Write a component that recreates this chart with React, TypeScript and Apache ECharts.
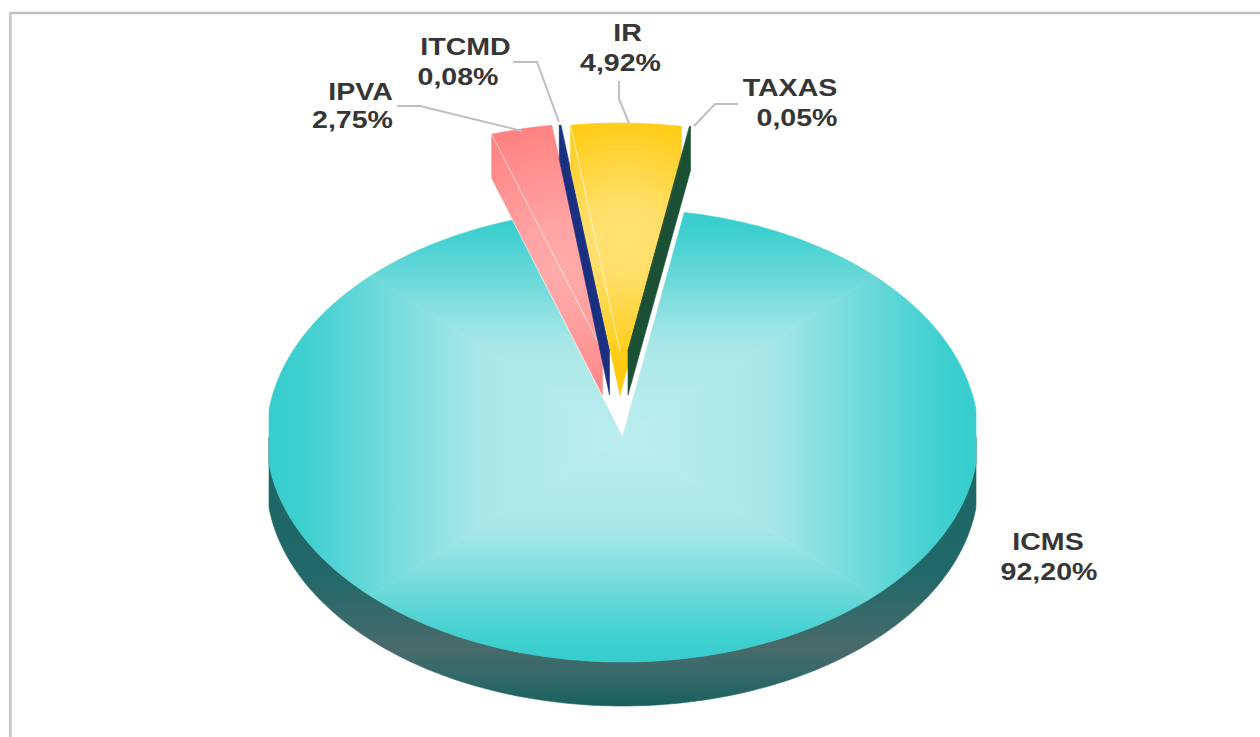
import React, { useEffect, useRef } from "react";
import * as echarts from "echarts";

const categories = ["ICMS", "IPVA", "ITCMD", "IR", "TAXAS"];
const shares = [92.2, 2.75, 0.08, 4.92, 0.05];
const shareLabels = ["92,20%", "2,75%", "0,08%", "4,92%", "0,05%"];
const FIRST_ANGLE = 10;

const FONT = 'bold 24px "Liberation Sans", Arial, sans-serif';
const TEXT_STRETCH = 1.19;
const TEXT_COLOR = "#363636";
const LEADER = "#bfbfbf";
const DEPTH = 44;
const LEFT_LIMIT = 269;
const RIGHT_LIMIT = 976;

const slicePlace = [
  { cx: 622.5, cy: 437, rx: 356, ry: 225, ryBack: 228, rimDepth: DEPTH },
  { cx: 602.5, cy: 351, rx: 357, ry: 228, ryBack: 228, rimDepth: DEPTH },
  { cx: 609.5, cy: 351, rx: 353, ry: 228, ryBack: 228, rimDepth: 34 },
  { cx: 620, cy: 351, rx: 360, ry: 228, ryBack: 228, rimDepth: DEPTH },
  { cx: 628, cy: 351, rx: 360, ry: 228, ryBack: 228, rimDepth: DEPTH },
];

const radial = (x: number, y: number, r: number, stops: [number, string][]) => ({
  type: "radial", x, y, r, global: true,
  colorStops: stops.map(([offset, color]) => ({ offset, color })),
});
const sliceFill = [
  null,
  radial(562, 268, 150, [[0, "#ffabab"], [0.3, "#ffa3a3"], [1, "#ff8080"]]),
  "#1a3080",
  radial(625, 238, 125, [[0, "#ffe274"], [0.3, "#ffdf69"], [1, "#ffcb10"]]),
  "#1b5035",
];

const labelPlace = [
  { lines: [{ x: 1048, y: 542 }, { x: 1049, y: 572 }], leader: null },
  { lines: [{ x: 360.5, y: 92 }, { x: 352.5, y: 120 }], leader: [[397, 106], [420, 106], [522, 131]] },
  { lines: [{ x: 465.5, y: 47 }, { x: 458, y: 77 }], leader: [[513, 62], [537, 62], [559, 122]] },
  { lines: [{ x: 627.5, y: 33 }, { x: 620.5, y: 63 }], leader: [[619, 81], [619, 99], [629, 123]] },
  { lines: [{ x: 790, y: 88 }, { x: 797, y: 118 }], leader: [[738, 104], [715, 104], [694, 126]] },
];

type Place = { cx: number; cy: number; rx: number; ry: number; ryBack: number; rimDepth: number };
const rad = (d: number) => (d * Math.PI) / 180;
const rim = (p: Place, deg: number, drop = 0): number[] => {
  const c = Math.cos(rad(deg));
  const x = p.cx + p.rx * Math.sin(rad(deg));
  return [
    Math.min(RIGHT_LIMIT, Math.max(LEFT_LIMIT, x)),
    p.cy - (c > 0 ? p.ryBack : p.ry) * c + drop,
  ];
};
const arc = (p: Place, a: number, b: number, drop = 0) => {
  const out: number[][] = [];
  const n = Math.max(2, Math.ceil(Math.abs(b - a)));
  for (let i = 0; i <= n; i++) out.push(rim(p, a + ((b - a) * i) / n, drop));
  return out;
};

const tealStops = [
  { offset: 0, color: "#36cdcd" },
  { offset: 0.1, color: "#3fcfcf" },
  { offset: 0.6, color: "#abe7e7" },
  { offset: 1, color: "#bbeded" },
];
const wedgeGradient = (p: Place, side: number) => {
  const g: any = { type: "linear", global: true, colorStops: tealStops };
  if (side === 0) Object.assign(g, { x: 0, y: p.cy - p.ryBack, x2: 0, y2: p.cy });
  if (side === 1) Object.assign(g, { x: RIGHT_LIMIT, y: 0, x2: p.cx, y2: 0 });
  if (side === 2) Object.assign(g, { x: 0, y: p.cy + p.ry, x2: 0, y2: p.cy });
  if (side === 3) Object.assign(g, { x: LEFT_LIMIT, y: 0, x2: p.cx, y2: 0 });
  return g;
};
const polygon = (points: number[][], fill: any, stroke?: any, lineWidth = 0.6) => ({
  type: "polygon",
  shape: { points },
  style: { fill, stroke: stroke || fill, lineWidth },
  silent: true,
});

function App() {
  const ref = useRef<HTMLDivElement>(null);
  useEffect(() => {
    const chart = echarts.init(ref.current!, null, { renderer: "svg" });
    const total = shares.reduce((s, v) => s + v, 0);

    const renderItem = (params: any, api: any) => {
      const i = params.dataIndex;
      const value = api.value(0);
      const before = shares.slice(0, i).reduce((s, v) => s + v, 0);
      const a = FIRST_ANGLE + (before / total) * 360;
      const b = a + (value / total) * 360;
      const p = slicePlace[i];
      const children: any[] = [];
      const centre = [p.cx, p.cy];
      const centreLow = [p.cx, p.cy + DEPTH];

      if (i === 0) {
        // outer wall of the big slice (front half only)
        const top = arc(p, 90, 270);
        const low = arc(p, 270, 90, DEPTH);
        children.push(
          polygon([...top, ...low], {
            type: "linear", global: true,
            x: 0, y: 440, x2: 0, y2: 706,
            colorStops: [
              { offset: 0, color: "#1b6666" },
              { offset: 0.5, color: "#226868" },
              { offset: 0.7, color: "#3c6a6a" },
              { offset: 0.77, color: "#4a6a6a" },
              { offset: 0.85, color: "#3d6a6a" },
              { offset: 1, color: "#1a6060" },
            ],
          })
        );
        // face, in four quarters so that the shading follows a rectangle
        for (let side = 0; side < 4; side++) {
          for (const shift of [0, 360]) {
            const from = Math.max(a, -45 + side * 90 + shift);
            const to = Math.min(b, 45 + side * 90 + shift);
            if (to > from) {
              children.push(polygon([centre, ...arc(p, from, to)], wedgeGradient(p, side)));
            }
          }
        }
      } else {
        const fill = sliceFill[i];
        const wall = (deg: number) =>
          polygon([centre, rim(p, deg), rim(p, deg, p.rimDepth), centreLow], fill);
        if (Math.sin(rad(a)) < 0) children.push(wall(a));
        if (Math.sin(rad(b)) > 0) children.push(wall(b));
        children.push(polygon([centre, ...arc(p, a, b)], fill));
        if (i === 1 || i === 3) {
          children.push({
            type: "line",
            shape: { x1: rim(p, a)[0], y1: rim(p, a)[1], x2: p.cx, y2: p.cy },
            style: { stroke: "rgba(255,255,255,0.6)", lineWidth: 1 },
            silent: true,
          });
        }
      }

      const place = labelPlace[i];
      if (place.leader) {
        children.push({
          type: "polyline",
          shape: { points: place.leader },
          style: { stroke: LEADER, lineWidth: 2, fill: "none" },
          silent: true,
        });
      }
      [categories[i], shareLabels[i]].forEach((text, k) => {
        children.push({
          type: "text",
          x: place.lines[k].x,
          y: place.lines[k].y,
          scaleX: TEXT_STRETCH,
          style: {
            text,
            font: FONT,
            fill: TEXT_COLOR,
            align: "center",
            verticalAlign: "middle",
          },
          silent: true,
        });
      });
      return { type: "group", children };
    };

    chart.setOption({
      animation: false,
      backgroundColor: "#ffffff",
      graphic: [
        {
          type: "line",
          shape: { x1: 9, y1: 13, x2: 1260, y2: 13 },
          style: { stroke: "#c0c0c0", lineWidth: 2.4 },
          silent: true,
        },
        {
          type: "line",
          shape: { x1: 10.3, y1: 12, x2: 10.3, y2: 737 },
          style: { stroke: "#c8c8c8", lineWidth: 2.8 },
          silent: true,
        },
      ],
      series: [
        {
          type: "custom",
          coordinateSystem: "none",
          silent: true,
          renderItem,
          data: shares.map((v, i) => ({ name: categories[i], value: [v] })),
        },
      ],
    });
    return () => chart.dispose();
  }, []);
  return (
    <div
      ref={ref}
      style={{ position: "fixed", left: 0, top: 0, width: 1260, height: 737 }}
    />
  );
}

export default App;
